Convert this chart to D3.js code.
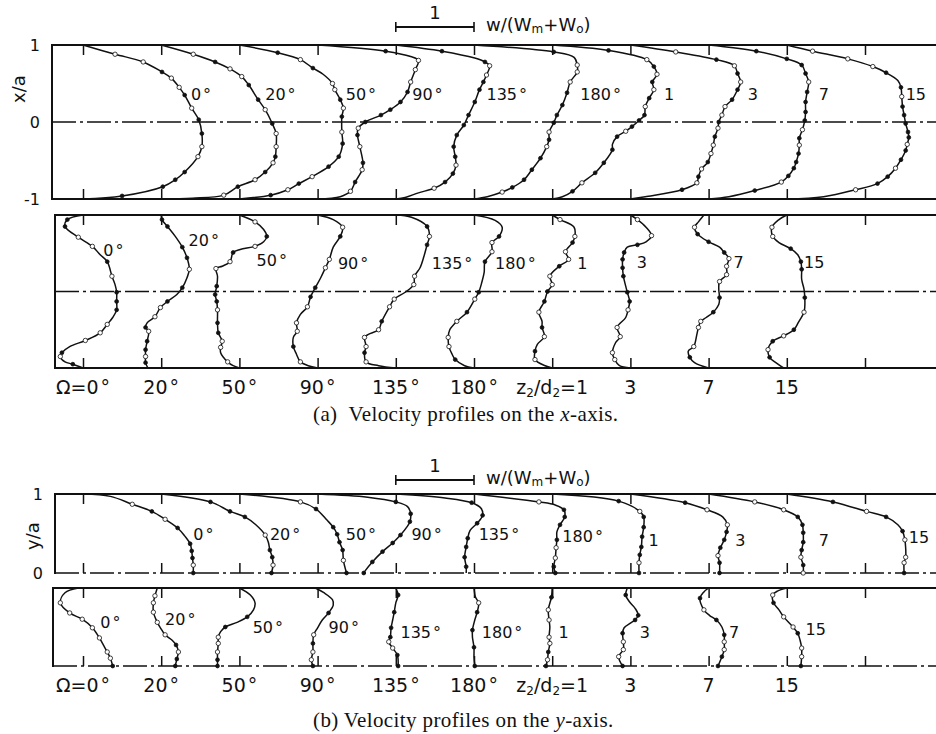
<!DOCTYPE html>
<html>
<head>
<meta charset="utf-8">
<title>Velocity profiles</title>
<script src="https://cdn.jsdelivr.net/npm/d3@7"></script>
<style>
  body { margin: 0; background: #fff; }
  svg { display: block; }
  .figure text { font-family: "DejaVu Sans", sans-serif; fill: #111; }
  .figure text.caption { font-family: "Liberation Serif", "Times New Roman", serif; }
</style>
</head>
<body>
<div class="figure"></div>
<script>
// tags written next to each profile, and the station row under the lower panels
var profileTags = ['0°', '20°', '50°', '90°', '135°', '180°', '1', '3', '7', '15'];
var stationTags = ['Ω=0°', '20°', '50°', '90°', '135°', '180°', 'z_2/d_2=1', '3', '7', '15'];
var fullTicks = [-1, 0, 1];
var halfTicks = [0, 1];
var scaleUnit = [0, 1];

// one list per profile: [position, w/(Wm+Wo) measured from its station, marker 0 none / 1 filled / 2 open]
var xUpper = [
  [[1,0,0],[0.88,0.41,2],[0.78,0.77,2],[0.65,1.01,1],[0.57,1.13,2],[0.45,1.23,2],[0.35,1.3,1],[0.18,1.39,2],[0.03,1.48,1],[-0.15,1.52,1],[-0.32,1.52,2],[-0.45,1.47,2],[-0.65,1.3,1],[-0.75,1.18,1],[-0.84,1.02,1],[-0.96,0.5,1],[-1,0,0]],
  [[1,0,0],[0.88,0.41,2],[0.78,0.69,1],[0.69,0.88,2],[0.59,1.03,2],[0.48,1.12,1],[0.29,1.24,1],[0.16,1.33,2],[-0.02,1.42,1],[-0.15,1.47,2],[-0.32,1.47,2],[-0.45,1.46,1],[-0.53,1.43,2],[-0.65,1.33,1],[-0.75,1.2,2],[-0.84,0.98,1],[-0.95,0.8,2],[-0.99,0.4,0],[-1,0,0]],
  [[1,0,0],[0.9,0.49,1],[0.81,0.78,2],[0.7,0.94,1],[0.62,1.07,0],[0.5,1.19,2],[0.42,1.22,2],[0.29,1.29,1],[0.18,1.33,2],[0.07,1.31,1],[-0.13,1.31,2],[-0.28,1.32,1],[-0.45,1.27,1],[-0.58,1.14,1],[-0.71,0.93,2],[-0.8,0.76,1],[-0.88,0.62,2],[-0.95,0.4,1],[-1,0,0]],
  [[1,0,0],[0.92,0.87,1],[0.85,1.19,0],[0.8,1.29,2],[0.68,1.25,2],[0.52,1.19,2],[0.39,1.15,1],[0.26,1.06,1],[0.16,0.93,1],[0.09,0.81,1],[0,0.61,1],[-0.08,0.52,2],[-0.17,0.51,1],[-0.32,0.54,2],[-0.53,0.58,1],[-0.62,0.57,2],[-0.78,0.48,1],[-0.9,0.42,2],[-0.97,0.29,0],[-1,0,0]],
  [[1,0,0],[0.92,0.59,1],[0.83,1.01,0],[0.78,1.14,1],[0.73,1.2,2],[0.61,1.16,2],[0.52,1.12,1],[0.42,1.07,1],[0.26,1.01,1],[0.09,0.93,1],[-0.04,0.87,1],[-0.17,0.78,1],[-0.32,0.74,1],[-0.45,0.76,1],[-0.56,0.77,2],[-0.67,0.73,1],[-0.78,0.63,1],[-0.86,0.49,2],[-0.92,0.29,0],[-0.98,0.12,0],[-1,0,0]],
  [[1,0,0],[0.91,1.02,1],[0.84,1.28,0],[0.74,1.32,2],[0.65,1.32,2],[0.52,1.23,2],[0.38,1.19,1],[0.22,1.13,1],[0.09,1.06,1],[-0.01,1.02,1],[-0.13,0.96,2],[-0.23,0.96,1],[-0.32,0.93,2],[-0.47,0.85,1],[-0.62,0.74,1],[-0.75,0.64,1],[-0.85,0.49,1],[-0.91,0.36,2],[-0.97,0.17,0],[-1,0,0]],
  [[1,0,0],[0.93,0.72,1],[0.81,1.21,2],[0.72,1.3,1],[0.62,1.34,2],[0.52,1.28,1],[0.42,1.3,2],[0.31,1.24,1],[0.2,1.19,2],[0.09,1.18,1],[0.02,1.11,1],[-0.06,1.02,1],[-0.12,0.94,2],[-0.19,0.83,1],[-0.29,0.77,0],[-0.36,0.77,1],[-0.53,0.66,1],[-0.66,0.55,1],[-0.79,0.38,2],[-0.9,0.26,1],[-0.97,0.13,0],[-1,0,0]],
  [[1,0,0],[0.91,0.58,2],[0.81,1.1,1],[0.73,1.33,2],[0.63,1.37,1],[0.52,1.41,2],[0.42,1.37,1],[0.29,1.3,1],[0.2,1.21,2],[0.09,1.17,2],[0,1.13,1],[-0.08,1.12,2],[-0.19,1.08,1],[-0.3,1.06,2],[-0.41,1.03,2],[-0.52,0.99,1],[-0.61,0.91,2],[-0.71,0.87,1],[-0.79,0.85,2],[-0.88,0.66,1],[-0.97,0.19,0],[-1,0,0]],
  [[1,0,0],[0.92,0.61,1],[0.82,1.0,1],[0.74,1.19,1],[0.63,1.24,1],[0.52,1.28,2],[0.39,1.26,1],[0.26,1.24,1],[0.13,1.24,1],[0.02,1.23,1],[-0.1,1.2,2],[-0.21,1.16,1],[-0.3,1.16,2],[-0.41,1.15,1],[-0.52,1.12,1],[-0.6,1.09,1],[-0.7,1.02,1],[-0.78,0.93,2],[-0.89,0.59,1],[-0.97,0.26,0],[-1,0,0]],
  [[1,0,0],[0.92,0.33,2],[0.82,0.78,2],[0.72,1.1,2],[0.64,1.27,1],[0.54,1.42,0],[0.45,1.46,1],[0.33,1.47,2],[0.2,1.48,1],[0.09,1.5,1],[-0.02,1.52,1],[-0.13,1.55,1],[-0.2,1.56,1],[-0.29,1.54,2],[-0.37,1.52,1],[-0.49,1.46,1],[-0.6,1.39,2],[-0.71,1.29,1],[-0.8,1.16,1],[-0.88,0.88,2],[-0.97,0.47,0],[-1,0,0]]
];

var xLower = [
  [[1,0,0],[0.94,-0.2,1],[0.85,-0.23,1],[0.71,-0.06,2],[0.59,0.12,2],[0.48,0.22,0],[0.39,0.31,1],[0.2,0.37,2],[0.09,0.41,0],[-0.01,0.43,1],[-0.13,0.43,1],[-0.24,0.43,1],[-0.34,0.38,0],[-0.43,0.31,2],[-0.54,0.22,2],[-0.64,0.03,2],[-0.72,-0.17,0],[-0.8,-0.27,1],[-0.85,-0.29,2],[-0.92,-0.23,0],[-0.95,-0.13,1],[-1,0,0]],
  [[1,0,0],[0.94,0.01,1],[0.85,0.08,1],[0.72,0.18,0],[0.58,0.27,1],[0.44,0.33,1],[0.29,0.36,2],[0.18,0.33,0],[0.05,0.27,1],[-0.04,0.2,0],[-0.13,0.08,1],[-0.21,-0.01,2],[-0.33,-0.08,2],[-0.41,-0.18,0],[-0.47,-0.2,1],[-0.52,-0.16,2],[-0.65,-0.18,1],[-0.76,-0.2,1],[-0.85,-0.2,2],[-0.93,-0.2,1],[-1,-0.17,0]],
  [[1,0,0],[0.91,0.2,2],[0.81,0.31,0],[0.72,0.35,1],[0.65,0.31,0],[0.59,0.2,2],[0.55,0.01,0],[0.51,-0.08,1],[0.39,-0.12,2],[0.33,-0.22,0],[0.3,-0.3,2],[0.2,-0.28,0],[0.07,-0.29,1],[-0.04,-0.31,1],[-0.13,-0.29,1],[-0.24,-0.28,2],[-0.41,-0.28,1],[-0.54,-0.27,1],[-0.65,-0.22,2],[-0.73,-0.24,2],[-0.8,-0.24,0],[-0.92,-0.15,2],[-0.97,-0.08,0],[-1,0,0]],
  [[1,0,0],[0.94,0.2,0],[0.84,0.32,2],[0.72,0.29,1],[0.58,0.2,0],[0.42,0.15,2],[0.31,0.1,2],[0.18,0.04,0],[0.05,-0.03,1],[-0.07,-0.09,1],[-0.2,-0.13,2],[-0.3,-0.22,0],[-0.41,-0.27,2],[-0.52,-0.26,2],[-0.6,-0.31,0],[-0.72,-0.31,1],[-0.82,-0.27,0],[-0.92,-0.22,2],[-0.97,-0.12,0],[-1,0,0]],
  [[1,0,0],[0.97,0.2,0],[0.85,0.4,1],[0.72,0.43,2],[0.61,0.4,1],[0.46,0.36,0],[0.31,0.31,0],[0.2,0.24,2],[0.09,0.23,2],[-0.01,0.12,0],[-0.1,-0.02,2],[-0.2,-0.08,2],[-0.39,-0.18,1],[-0.5,-0.22,2],[-0.56,-0.35,0],[-0.6,-0.4,2],[-0.72,-0.38,2],[-0.8,-0.4,1],[-0.92,-0.38,2],[-0.97,-0.22,0],[-1,0,0]],
  [[1,0,0],[0.93,0.27,0],[0.84,0.36,0],[0.72,0.32,1],[0.64,0.23,2],[0.52,0.23,2],[0.39,0.14,1],[0.25,0.13,0],[0.12,0.1,0],[-0.01,0.06,1],[-0.1,0.01,2],[-0.27,-0.09,1],[-0.39,-0.22,2],[-0.5,-0.31,0],[-0.6,-0.33,2],[-0.72,-0.32,2],[-0.82,-0.28,0],[-0.89,-0.24,1],[-0.97,-0.12,0],[-1,0,0]],
  [[1,0,0],[0.94,0.1,2],[0.84,0.28,0],[0.72,0.29,2],[0.64,0.26,1],[0.52,0.17,2],[0.42,0.21,2],[0.33,0.09,1],[0.2,-0.03,2],[0.09,0,2],[0,-0.06,1],[-0.13,-0.1,1],[-0.27,-0.17,2],[-0.39,-0.13,0],[-0.47,-0.13,1],[-0.59,-0.1,2],[-0.69,-0.19,0],[-0.78,-0.22,1],[-0.89,-0.22,2],[-0.97,-0.09,0],[-1,0,0]],
  [[1,0,0],[0.94,0.09,2],[0.84,0.2,0],[0.73,0.27,2],[0.65,0.2,0],[0.61,0.09,1],[0.58,-0.04,0],[0.51,-0.08,1],[0.42,-0.1,1],[0.31,-0.1,1],[0.2,-0.09,1],[0.07,-0.06,0],[-0.01,-0.04,1],[-0.13,-0.01,1],[-0.24,-0.03,2],[-0.34,-0.06,0],[-0.47,-0.17,2],[-0.59,-0.13,2],[-0.67,-0.19,0],[-0.8,-0.23,2],[-0.89,-0.2,2],[-0.97,-0.14,0],[-1,0,0]],
  [[1,-0.06,0],[0.91,-0.13,0],[0.84,-0.18,2],[0.75,-0.14,1],[0.65,0,1],[0.58,0.14,0],[0.51,0.2,1],[0.43,0.26,2],[0.33,0.23,2],[0.22,0.23,2],[0.13,0.14,2],[0.03,0.13,0],[-0.08,0.14,1],[-0.17,0.13,0],[-0.27,0.06,1],[-0.34,-0.03,0],[-0.39,-0.1,2],[-0.47,-0.13,2],[-0.56,-0.15,0],[-0.72,-0.19,2],[-0.78,-0.26,0],[-0.86,-0.24,1],[-0.93,-0.18,0],[-1,0,0]],
  [[1,0,0],[0.94,-0.1,0],[0.84,-0.19,2],[0.72,-0.18,2],[0.64,-0.1,0],[0.56,0.05,1],[0.48,0.14,0],[0.39,0.18,1],[0.29,0.19,1],[0.16,0.19,0],[0.03,0.22,0],[-0.08,0.23,1],[-0.2,0.23,0],[-0.27,0.22,2],[-0.4,0.15,0],[-0.5,0.09,1],[-0.58,-0.04,2],[-0.65,-0.18,1],[-0.76,-0.24,2],[-0.86,-0.22,1],[-0.93,-0.14,0],[-1,-0.04,0]]
];

var yUpper = [
  [[1,0,0],[0.97,0.35,0],[0.87,0.63,2],[0.78,0.88,1],[0.68,1.05,2],[0.57,1.21,1],[0.47,1.3,0],[0.37,1.37,1],[0.28,1.39,1],[0.19,1.4,1],[0.1,1.41,2],[0,1.41,1]],
  [[1,0,0],[0.9,0.63,1],[0.78,0.88,1],[0.71,1.07,1],[0.61,1.21,0],[0.48,1.33,2],[0.39,1.37,0],[0.29,1.39,1],[0.2,1.42,1],[0.1,1.43,2],[0,1.41,1]],
  [[1,0,0],[0.9,0.78,2],[0.81,0.98,1],[0.67,1.12,0],[0.58,1.2,1],[0.49,1.25,1],[0.39,1.28,1],[0.29,1.32,1],[0.16,1.33,2],[0,1.37,1]],
  [[1,0,0],[0.96,0.64,0],[0.9,1.0,1],[0.84,1.15,0],[0.75,1.19,1],[0.65,1.18,1],[0.58,1.14,0],[0.48,1.06,1],[0.38,0.96,1],[0.27,0.83,1],[0.14,0.7,1],[0.03,0.61,0],[0,0.59,1]],
  [[1,0,0],[0.95,0.63,0],[0.89,0.97,1],[0.82,1.09,0],[0.73,1.11,1],[0.63,1.04,1],[0.54,0.95,0],[0.44,0.92,1],[0.33,0.9,1],[0.2,0.88,1],[0.08,0.9,1],[0,0.9,0]],
  [[1,0,0],[0.9,0.83,2],[0.86,1.04,0],[0.8,1.15,1],[0.71,1.16,1],[0.61,1.1,1],[0.52,1.06,0],[0.42,1.06,1],[0.32,1.05,2],[0.19,1.04,2],[0.08,1.02,1],[0,1.04,1]],
  [[1,0,0],[0.91,0.85,1],[0.78,1.12,2],[0.71,1.17,1],[0.58,1.17,1],[0.46,1.15,1],[0.33,1.14,1],[0.23,1.12,1],[0.13,1.11,2],[0,1.11,1]],
  [[1,0,0],[0.89,0.7,1],[0.8,0.98,2],[0.71,1.18,0],[0.61,1.24,2],[0.52,1.23,1],[0.42,1.2,1],[0.32,1.15,1],[0.22,1.12,2],[0.13,1.14,1],[0,1.14,1]],
  [[1,0,0],[0.9,0.59,2],[0.8,0.96,2],[0.71,1.14,1],[0.61,1.2,1],[0.51,1.21,1],[0.39,1.21,1],[0.29,1.19,1],[0.2,1.18,2],[0.1,1.21,1],[0,1.21,2]],
  [[1,0,0],[0.9,0.59,1],[0.78,1.02,2],[0.71,1.27,1],[0.61,1.42,0],[0.53,1.48,1],[0.42,1.51,2],[0.32,1.52,0],[0.2,1.52,2],[0.13,1.5,2],[0,1.5,1]]
];

var yLower = [
  [[1,-0.06,0],[0.94,-0.23,0],[0.81,-0.29,2],[0.68,-0.17,2],[0.6,-0.01,2],[0.49,0.12,2],[0.36,0.21,2],[0.27,0.26,0],[0.18,0.31,2],[0.1,0.35,2],[0,0.38,1]],
  [[1,-0.05,0],[0.9,-0.08,2],[0.81,-0.1,2],[0.69,-0.1,2],[0.56,-0.05,2],[0.49,-0.01,0],[0.4,0.05,2],[0.33,0.14,0],[0.27,0.19,1],[0.18,0.22,2],[0.09,0.2,1],[0,0.18,1]],
  [[1,0,0],[0.91,0.14,0],[0.81,0.2,0],[0.72,0.18,0],[0.63,0.1,1],[0.56,-0.03,0],[0.5,-0.18,1],[0.44,-0.24,0],[0.37,-0.27,2],[0.29,-0.27,2],[0.18,-0.28,2],[0.08,-0.28,1],[0,-0.28,1]],
  [[1,-0.03,0],[0.94,0.08,0],[0.85,0.19,0],[0.78,0.2,0],[0.68,0.14,1],[0.59,0.06,0],[0.49,0,0],[0.4,-0.05,2],[0.29,-0.06,1],[0.18,-0.06,2],[0.08,-0.08,2],[0,-0.06,1]],
  [[1,0,0],[0.91,0.03,1],[0.81,0,0],[0.69,-0.02,1],[0.59,-0.04,0],[0.49,-0.06,1],[0.37,-0.07,1],[0.31,-0.09,2],[0.23,-0.04,2],[0.14,0.02,1],[0,0.03,1]],
  [[1,0,0],[0.88,0.02,0],[0.81,0.06,2],[0.69,0.04,1],[0.59,0.01,0],[0.46,-0.02,1],[0.37,-0.02,0],[0.24,0,1],[0.12,0,0],[0,0.01,1]],
  [[1,0,0],[0.88,-0.01,1],[0.72,-0.05,2],[0.59,-0.04,2],[0.5,-0.03,0],[0.37,-0.04,2],[0.29,-0.03,2],[0.18,-0.05,1],[0.08,-0.06,2],[0,-0.08,1]],
  [[1,-0.04,0],[0.91,-0.06,1],[0.82,-0.01,0],[0.74,0.06,0],[0.65,0.1,1],[0.59,0.06,1],[0.55,0,0],[0.49,-0.08,0],[0.42,-0.1,1],[0.31,-0.09,2],[0.21,-0.09,2],[0.12,-0.15,2],[0,-0.1,1]],
  [[1,0,0],[0.95,-0.06,0],[0.87,-0.11,1],[0.72,-0.06,2],[0.65,0.01,0],[0.59,0.1,1],[0.5,0.17,0],[0.4,0.2,1],[0.31,0.2,2],[0.21,0.2,2],[0.12,0.17,1],[0,0.12,1]],
  [[1,0,0],[0.96,-0.12,0],[0.91,-0.18,2],[0.81,-0.17,1],[0.72,-0.1,0],[0.63,-0.04,2],[0.5,0.08,2],[0.42,0.14,1],[0.33,0.17,0],[0.23,0.19,2],[0.12,0.19,2],[0,0.18,1]]
];

/* layout */
var width = 936, height = 734;
var xs = d3.scaleLinear().domain([0, 10]).range([83, 865]);

// where each profile tag sits: [offset from station, position]
var panels = [
  {profiles: xUpper, domain: [-1, 1], range: [199, 45], left: 52, half: false,
   ticks: fullTicks, tickEnd: 40, title: 'x/a', titleAt: [25, 89],
   spots: [[1.38,0.29],[1.33,0.29],[1.36,0.29],[1.21,0.29],[1.16,0.29],[1.36,0.29],[1.43,0.29],[1.5,0.29],[1.41,0.29],[1.52,0.29]]},
  {profiles: xLower, domain: [-1, 1], range: [368, 215], left: 55, half: false,
   spots: [[0.26,0.46],[0.35,0.59],[0.22,0.33],[0.26,0.29],[0.46,0.29],[0.27,0.29],[0.32,0.29],[0.08,0.31],[0.32,0.31],[0.22,0.31]]},
  {profiles: yUpper, domain: [0, 1], range: [573, 494], left: 55, half: true,
   ticks: halfTicks, tickEnd: 43, title: 'y/a', titleAt: [39, 536],
   spots: [[1.41,0.42],[1.39,0.42],[1.36,0.42],[1.2,0.42],[1.06,0.42],[1.13,0.39],[1.23,0.34],[1.34,0.34],[1.41,0.34],[1.56,0.38]]},
  {profiles: yLower, domain: [0, 1], range: [666, 588], left: 53, half: true,
   spots: [[0.22,0.49],[0.05,0.53],[0.17,0.42],[0.14,0.42],[0.06,0.36],[0.1,0.36],[0.08,0.36],[0.12,0.36],[0.26,0.36],[0.24,0.4]]}
];

var svg = d3.select('.figure').append('svg')
  .attr('width', width)
  .attr('height', height);

// plain text with '_x' as subscript and a spaced degree sign
function addRich(text, str, subSize, drop) {
  var shift = 0;
  str.split(/(_.|°)/).forEach(function(part) {
    if (!part) return;
    var t = text.append('tspan');
    if (part[0] === '_') {
      t.text(part.slice(1)).attr('font-size', subSize).attr('dy', drop - shift);
      shift = drop;
      return;
    }
    if (shift) { t.attr('dy', -shift); shift = 0; }
    if (part === '°') t.attr('dx', 2);
    t.text(part);
  });
}

function hline(g, x1, x2, y, w, dash) {
  g.append('line')
    .attr('x1', x1).attr('x2', x2)
    .attr('y1', y).attr('y2', y)
    .attr('stroke', '#111')
    .attr('stroke-width', w)
    .attr('stroke-dasharray', dash || null);
}

function drawPanel(p) {
  var y = d3.scaleLinear().domain(p.domain).range(p.range);
  var top = p.range[1], bottom = p.range[0];
  var g = svg.append('g').attr('class', 'panel');
  var dashDot = '24,4,3,4';

  function inwardTicks(a) {
    a.select('.domain').remove();
    a.selectAll('.tick line').attr('stroke', '#111').attr('stroke-width', 1.5);
  }
  g.append('g')
    .attr('transform', 'translate(0,' + top + ')')
    .call(d3.axisTop(xs).tickValues(d3.range(11)).tickSize(-10).tickFormat(''))
    .call(inwardTicks);
  g.append('g')
    .attr('transform', 'translate(0,' + bottom + ')')
    .call(d3.axisBottom(xs).tickValues(d3.range(11)).tickSize(-10).tickFormat(''))
    .call(inwardTicks);

  hline(g, p.left, width, top, 2);
  if (p.half) hline(g, p.left, width, bottom, 1.4, dashDot);
  else {
    hline(g, p.left, width, bottom, 2);
    hline(g, p.left, width, y(0), 1.3, dashDot);
  }
  g.append('line')
    .attr('x1', p.left).attr('x2', p.left)
    .attr('y1', top - 1).attr('y2', bottom + 1)
    .attr('stroke', '#111').attr('stroke-width', 2);

  var line = d3.line()
    .x(function(d) { return d.x; })
    .y(function(d) { return d.y; })
    .curve(d3.curveCatmullRom.alpha(0.5));

  p.profiles.forEach(function(prof, i) {
    var pts = prof.map(function(d) {
      return {x: xs(i + d[1]), y: y(d[0]), m: d[2]};
    });
    g.append('path')
      .attr('d', line(pts))
      .attr('fill', 'none')
      .attr('stroke', '#111')
      .attr('stroke-width', 1.5);

    g.selectAll(null)
      .data(pts.filter(function(d) { return d.m > 0; }))
      .enter().append('circle')
      .attr('cx', function(d) { return d.x; })
      .attr('cy', function(d) { return d.y; })
      .attr('r', function(d) { return d.m === 1 ? 1.9 : 2.2; })
      .attr('fill', function(d) { return d.m === 1 ? '#111' : '#fff'; })
      .attr('stroke', '#111')
      .attr('stroke-width', 0.8);

    var spot = p.spots[i];
    var t = g.append('text')
      .attr('x', xs(i + spot[0]))
      .attr('y', y(spot[1]))
      .attr('font-size', 16);
    addRich(t, profileTags[i], 11, 3);
  });

  if (p.ticks) {
    g.append('g')
      .attr('transform', 'translate(' + p.tickEnd + ',0)')
      .call(d3.axisLeft(y).tickValues(p.ticks).tickSize(0).tickPadding(0).tickFormat(String))
      .call(function(a) {
        a.select('.domain').remove();
        a.selectAll('text')
          .attr('font-size', 16)
          .attr('font-family', '"DejaVu Sans", sans-serif')
          .attr('fill', '#111');
      });
    g.append('text')
      .attr('transform', 'translate(' + p.titleAt[0] + ',' + p.titleAt[1] + ') rotate(-90)')
      .attr('text-anchor', 'middle')
      .attr('font-size', 18)
      .text(p.title);
  }
}

function drawScaleBar(yBar, yLabel) {
  var g = svg.append('g').attr('class', 'scale-bar');
  var x1 = xs(4 + scaleUnit[0]), x2 = xs(4 + scaleUnit[1]);
  hline(g, x1, x2, yBar, 2);
  [x1, x2].forEach(function(x) {
    g.append('line')
      .attr('x1', x).attr('x2', x)
      .attr('y1', yBar - 5).attr('y2', yBar + 5)
      .attr('stroke', '#111').attr('stroke-width', 1.6);
  });
  g.append('text')
    .attr('x', (x1 + x2) / 2).attr('y', yBar - 8)
    .attr('text-anchor', 'middle')
    .attr('font-size', 18)
    .text(String(scaleUnit[1]));
  var t = g.append('text')
    .attr('x', x2 + 12).attr('y', yLabel)
    .attr('font-size', 18);
  addRich(t, 'w/(W_m+W_o)', 12, 2);
}

function drawStations(yBase) {
  stationTags.forEach(function(s, i) {
    var t = svg.append('text')
      .attr('x', xs(i))
      .attr('y', yBase)
      .attr('text-anchor', 'middle')
      .attr('font-size', 19);
    addRich(t, s, 12, 3);
  });
}

function drawCaption(label, gap, axisName, yBase) {
  var t = svg.append('text')
    .attr('class', 'caption')
    .attr('x', 313).attr('y', yBase)
    .attr('font-size', 21)
    .attr('letter-spacing', 0.4)
    .attr('fill', '#111');
  t.append('tspan').text(label);
  t.append('tspan').attr('dx', gap).text('Velocity profiles on the ');
  t.append('tspan').attr('font-style', 'italic').text(axisName);
  t.append('tspan').text('-axis.');
}

panels.forEach(drawPanel);
drawScaleBar(27, 31);
drawScaleBar(480, 484);
drawStations(394);
drawStations(692);
drawCaption('(a)', 11, 'x', 421);
drawCaption('(b)', 5, 'y', 727);
</script>
</body>
</html>
